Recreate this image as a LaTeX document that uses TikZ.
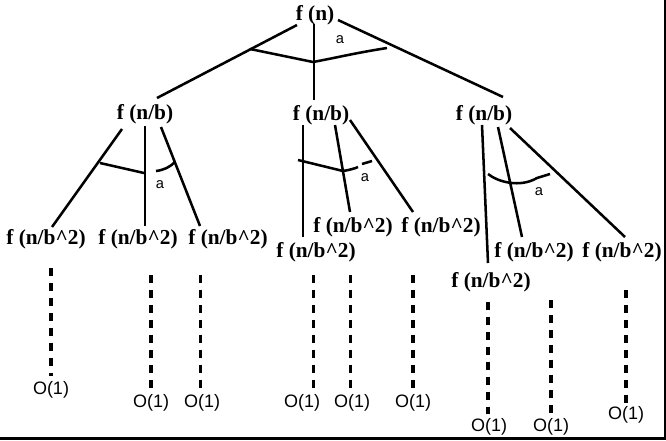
\documentclass[tikz,border=0pt]{standalone}
\usepackage{fontspec}
\setmainfont{Liberation Serif}
\newfontfamily\lsans{Liberation Sans}
\begin{document}
\begin{tikzpicture}[x=0.75pt,y=-0.75pt,
  fnode/.style={font=\fontsize{16}{18}\selectfont\bfseries, inner sep=0pt},
  onode/.style={font=\lsans\fontsize{13.5}{15}\selectfont, inner sep=0pt},
  alabel/.style={font=\lsans\fontsize{11}{12}\selectfont, inner sep=0pt},
  edge/.style={line width=1.9pt},
  arcline/.style={line width=1.9pt},
  dots/.style={line width=2.3pt, dash pattern=on 6pt off 5.2pt}]
\useasboundingbox (0,0) rectangle (666,440);
% frame (right and bottom)
\draw[line width=1.6pt] (665,0) -- (665,438.5) -- (0,438.5);

% nodes
\node[fnode] (root) at (315,15) {f (n)};
\node[fnode] (n1) at (145,114) {f (n/b)};
\node[fnode] (n2) at (321,115) {f (n/b)};
\node[fnode] (n3) at (484,115) {f (n/b)};
\node[fnode] (l1) at (46,239) {f (n/b\^{}2)};
\node[fnode] (l2) at (138,239) {f (n/b\^{}2)};
\node[fnode] (l3) at (228,239) {f (n/b\^{}2)};
\node[fnode] (m1) at (316,252) {f (n/b\^{}2)};
\node[fnode] (m2) at (353,227) {f (n/b\^{}2)};
\node[fnode] (m3) at (441,227) {f (n/b\^{}2)};
\node[fnode] (r1) at (491,282) {f (n/b\^{}2)};
\node[fnode] (r2) at (534,252) {f (n/b\^{}2)};
\node[fnode] (r3) at (622,252) {f (n/b\^{}2)};

\node[onode] (o1) at (51,390) {O(1)};
\node[onode] (o2) at (151,403) {O(1)};
\node[onode] (o3) at (202,403) {O(1)};
\node[onode] (o4) at (302,403) {O(1)};
\node[onode] (o5) at (352,403) {O(1)};
\node[onode] (o6) at (413,403) {O(1)};
\node[onode] (o7) at (489,427) {O(1)};
\node[onode] (o8) at (551,427) {O(1)};
\node[onode] (o9) at (626,415) {O(1)};

\node[alabel] (a0) at (340,40) {a};
\node[alabel] (a1) at (160,185) {a};
\node[alabel] (a2) at (365,178) {a};
\node[alabel] (a3) at (539,192) {a};

% edge end coordinates
\coordinate (rs1) at (297,25); \coordinate (re1) at (157,98);
\coordinate (rs2) at (314,24); \coordinate (re2) at (314,100);
\coordinate (rs3) at (338,20); \coordinate (re3) at (503,97);
\draw[edge] (rs1) -- (re1);
\draw[edge] (rs2) -- (re2);
\draw[edge] (rs3) -- (re3);

\coordinate (ls1) at (122,129); \coordinate (le1) at (52,227);
\coordinate (ls2) at (145,126); \coordinate (le2) at (145,226);
\coordinate (ls3) at (161,127); \coordinate (le3) at (200,226);
\draw[edge] (ls1) -- (le1);
\draw[edge] (ls2) -- (le2);
\draw[edge] (ls3) -- (le3);

\coordinate (ms1) at (303,125); \coordinate (me1) at (303,237);
\coordinate (ms2) at (335,125); \coordinate (me2) at (350,212);
\coordinate (ms3) at (350,120); \coordinate (me3) at (413,212);
\draw[edge] (ms1) -- (me1);
\draw[edge] (ms2) -- (me2);
\draw[edge] (ms3) -- (me3);

\coordinate (ts1) at (482,125); \coordinate (te1) at (488,263);
\coordinate (ts2) at (498,127); \coordinate (te2) at (522,237);
\coordinate (ts3) at (510,128); \coordinate (te3) at (625,237);
\draw[edge] (ts1) -- (te1);
\draw[edge] (ts2) -- (te2);
\draw[edge] (ts3) -- (te3);

% angle arcs
\draw[arcline] (250,49) -- (313,62) .. controls (335,58) and (355,53) .. (387,48);
\draw[arcline] (100,163) -- (144,173);
\draw[arcline] (156,171) .. controls (164,170) and (170,167) .. (175,162);
\draw[arcline] (298,160) -- (343,171) .. controls (350,170) and (356,168) .. (358,167);
\draw[arcline] (362,164) -- (372,161);
\draw[arcline] (488,174) .. controls (498,182) and (520,188) .. (537,178) -- (550,174);

% dashed continuations
\coordinate (d1) at (51,268);   \draw[dots] (d1) -- (51,376);
\coordinate (d2) at (151,275);  \draw[dots] (d2) -- (151,389);
\coordinate (d3) at (200.5,275);\draw[dots] (d3) -- (200.5,389);
\coordinate (d4) at (313.5,275);\draw[dots] (d4) -- (313.5,389);
\coordinate (d5) at (350.5,275);\draw[dots] (d5) -- (350.5,389);
\coordinate (d6) at (413,275);  \draw[dots] (d6) -- (413,389);
\coordinate (d7) at (488,302);  \draw[dots] (d7) -- (488,414);
\coordinate (d8) at (551,300);  \draw[dots] (d8) -- (551,414);
\coordinate (d9) at (626,290);  \draw[dots] (d9) -- (626,403);
\end{tikzpicture}
\end{document}
